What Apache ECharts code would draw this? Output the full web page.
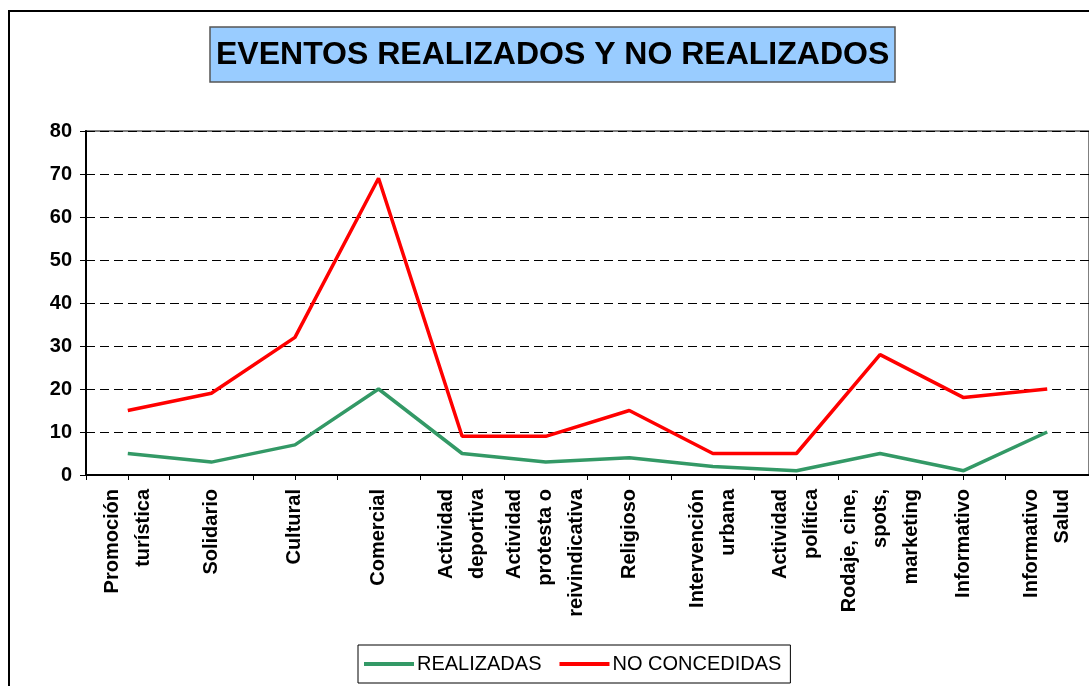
<!DOCTYPE html>
<html>
<head>
<meta charset="utf-8">
<script src="https://cdn.jsdelivr.net/npm/echarts@6/dist/echarts.min.js"></script>
<style>
html,body{margin:0;padding:0;background:#fff;}
#chart{width:1089px;height:686px;}
</style>
</head>
<body>
<div id="chart"></div>
<script>
const titleText = 'EVENTOS REALIZADOS Y NO REALIZADOS';
const categories = [
  'Promoción\nturística',
  'Solidario',
  'Cultural',
  'Comercial',
  'Actividad\ndeportiva',
  'Actividad\nprotesta o\nreivindicativa',
  'Religioso',
  'Intervención\nurbana',
  'Actividad\npolítica',
  'Rodaje, cine,\nspots,\nmarketing',
  'Informativo',
  'Informativo\nSalud'
];
const seriesNames = ['REALIZADAS', 'NO CONCEDIDAS'];
const realizadas = [5, 3, 7, 20, 5, 3, 4, 2, 1, 5, 1, 10];
const noConcedidas = [15, 19, 32, 69, 9, 9, 15, 5, 5, 28, 18, 20];
const yTicks = {min: 0, max: 80, interval: 10};

const font = '"Liberation Sans", Arial, sans-serif';
const chart = echarts.init(document.getElementById('chart'), null, {renderer: 'canvas'});
chart.setOption({
  animation: false,
  backgroundColor: '#ffffff',
  graphic: [{
    type: 'rect',
    shape: {x: 9, y: 11, width: 1200, height: 800},
    style: {fill: 'none', stroke: '#000', lineWidth: 2},
    silent: true,
    z: 0
  }],
  title: {
    text: titleText,
    left: 210,
    top: 27,
    padding: [12, 6, 11, 6],
    backgroundColor: '#99CCFF',
    borderColor: '#555555',
    borderWidth: 1.5,
    textStyle: {fontFamily: font, fontWeight: 'bold', fontSize: 32, color: '#000'}
  },
  legend: {
    data: seriesNames,
    left: 358,
    top: 645,
    orient: 'horizontal',
    padding: [9, 9, 9, 6],
    itemGap: 18,
    itemWidth: 50,
    itemHeight: 4,
    icon: 'rect',
    borderColor: '#000',
    borderWidth: 1,
    textStyle: {fontFamily: font, fontSize: 20, color: '#000', padding: [0, 0, 0, -2]}
  },
  grid: {
    left: 86, top: 131, width: 1008, height: 344,
    show: true, borderColor: '#808080', borderWidth: 2, backgroundColor: '#fff'
  },
  xAxis: [{
    type: 'category',
    data: categories,
    boundaryGap: true,
    axisLine: {show: true, lineStyle: {color: '#000', width: 2}},
    axisTick: {show: true, length: 5, lineStyle: {color: '#000'}},
    axisLabel: {
      interval: 0, rotate: 90, margin: 14,
      fontFamily: font, fontWeight: 'bold', fontSize: 20, lineHeight: 31, color: '#000'
    },
    splitLine: {show: false}
  }, {
    type: 'category',
    data: categories,
    position: 'bottom',
    boundaryGap: true,
    axisLine: {show: false},
    axisTick: {show: true, alignWithLabel: true, length: 5, lineStyle: {color: '#000'}},
    axisLabel: {show: false},
    splitLine: {show: false}
  }],
  yAxis: {
    type: 'value',
    min: yTicks.min, max: yTicks.max, interval: yTicks.interval,
    axisLine: {show: true, lineStyle: {color: '#000', width: 2}},
    axisTick: {show: true, length: 6, lineStyle: {color: '#000'}},
    axisLabel: {margin: 14, fontFamily: font, fontWeight: 'bold', fontSize: 20, color: '#000'},
    splitLine: {show: true, lineStyle: {color: '#000', type: [9, 5], width: 1}}
  },
  series: [{
    name: seriesNames[0],
    type: 'line',
    data: realizadas,
    symbol: 'none',
    color: '#339966',
    lineStyle: {color: '#339966', width: 3.5},
    z: 3
  }, {
    name: seriesNames[1],
    type: 'line',
    data: noConcedidas,
    symbol: 'none',
    color: '#FF0000',
    lineStyle: {color: '#FF0000', width: 3.5},
    z: 3
  }]
});
</script>
</body>
</html>
